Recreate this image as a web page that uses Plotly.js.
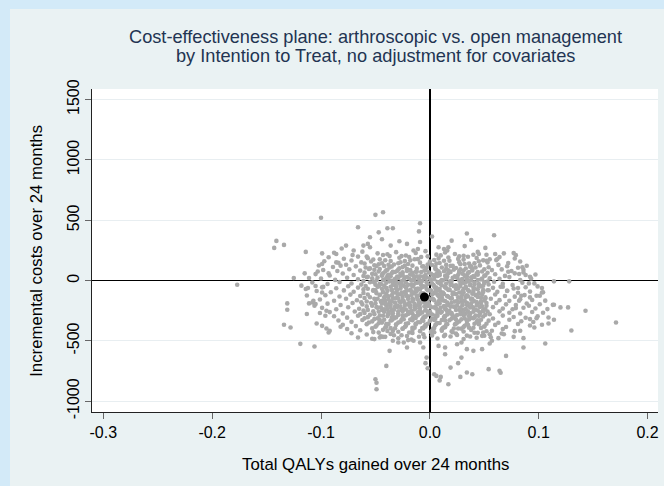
<!DOCTYPE html>
<html><head><meta charset="utf-8">
<script src="https://cdn.plot.ly/plotly-3.0.1.min.js"></script>
<style>
html,body{margin:0;padding:0;background:#d3eaf8;width:664px;height:486px;overflow:hidden}
#chart{position:absolute;left:10px;top:9px;width:654px;height:477px}
</style>
</head><body><div id="chart"></div>
<script>
// Bootstrap replicates: rows of the dense cloud (q = incremental QALYs, c = incremental cost)
const cloudRowsA = [
 {q:[-.088,-.071,-.062,-.048,-.039,-.031,-.022,-.013,-.004,.006,.014,.023,.031,.044,.052,.068], c:[231,212,240,226,218,236,208,229,244,215,233,221,205,238,214,226]},
 {q:[-.093,-.079,-.066,-.057,-.046,-.037,-.028,-.019,-.011,-.002,.008,.017,.026,.035,.043,.055,.064,.078], c:[193,181,199,186,176,203,189,195,178,201,184,192,180,198,187,176,195,183]},
 {q:[-.097,-.084,-.072,-.063,-.054,-.044,-.036,-.027,-.018,-.009,.000,.009,.018,.027,.036,.045,.053,.061,.072,.083], c:[160,148,166,151,158,144,163,152,168,149,157,146,165,153,141,161,150,170,145,158]},
 {q:[-.102,-.089,-.077,-.068,-.059,-.051,-.042,-.033,-.025,-.016,-.007,.002,.011,.019,.028,.037,.046,.054,.063,.071,.081,.089], c:[125,113,131,118,109,127,121,134,112,124,117,129,108,122,136,115,126,111,130,119,107,123]},
 {q:[-.098,-.085,-.074,-.064,-.056,-.047,-.039,-.030,-.021,-.012,-.004,.005,.013,.022,.031,.039,.048,.057,.066,.075,.086], c:[88,79,94,83,97,76,90,81,95,73,86,99,78,91,84,96,75,87,93,80,89]},
 {q:[-.105,-.092,-.080,-.070,-.061,-.053,-.044,-.035,-.027,-.018,-.009,.001,.009,.017,.026,.034,.043,.051,.060,.069,.078,.088,.097], c:[54,42,59,47,38,56,45,61,40,52,36,57,44,63,49,37,58,43,53,39,60,46,51]},
 {q:[-.100,-.087,-.076,-.066,-.058,-.049,-.040,-.032,-.023,-.014,-.005,.004,.012,.021,.030,.038,.047,.055,.064,.073,.083,.093], c:[18,6,24,11,28,3,21,14,26,8,19,31,2,23,12,27,9,20,15,29,5,17]},
 {q:[-.108,-.094,-.083,-.072,-.063,-.055,-.046,-.037,-.028,-.020,-.011,-.002,.007,.015,.024,.033,.041,.050,.059,.067,.076,.085,.096], c:[-16,-28,-11,-24,-33,-14,-27,-8,-22,-35,-18,-29,-12,-25,-38,-15,-31,-20,-9,-26,-36,-17,-23]},
 {q:[-.098,-.086,-.075,-.066,-.057,-.048,-.040,-.031,-.022,-.013,-.004,.005,.014,.022,.031,.040,.049,.058,.067,.077,.088,.099], c:[-52,-63,-47,-58,-68,-50,-61,-44,-56,-70,-49,-64,-53,-46,-67,-57,-42,-60,-51,-66,-55,-48]},
 {q:[-.104,-.091,-.079,-.070,-.061,-.052,-.043,-.035,-.026,-.017,-.008,.001,.010,.018,.027,.036,.045,.054,.062,.071,.081,.092,.104], c:[-86,-97,-81,-92,-103,-84,-95,-78,-100,-88,-106,-83,-94,-77,-99,-89,-104,-80,-93,-85,-101,-91,-96]},
 {q:[-.096,-.083,-.073,-.064,-.055,-.046,-.038,-.029,-.020,-.011,-.002,.007,.016,.024,.033,.042,.051,.060,.069,.078,.087,.098], c:[-121,-132,-116,-128,-138,-119,-130,-113,-135,-124,-141,-118,-129,-112,-136,-122,-139,-115,-127,-133,-120,-126]},
 {q:[-.101,-.088,-.077,-.067,-.058,-.050,-.041,-.032,-.024,-.015,-.006,.003,.012,.020,.029,.038,.047,.056,.064,.073,.083,.094,.106], c:[-156,-167,-151,-163,-173,-154,-165,-148,-170,-159,-176,-153,-164,-147,-171,-157,-174,-150,-162,-168,-155,-161,-166]},
 {q:[-.094,-.082,-.071,-.062,-.053,-.044,-.036,-.027,-.018,-.009,.000,.009,.017,.026,.035,.044,.052,.061,.070,.079,.089,.101,.113], c:[-191,-202,-186,-198,-208,-189,-200,-183,-205,-194,-211,-188,-199,-182,-206,-192,-209,-185,-197,-203,-190,-196,-201]},
 {q:[-.099,-.086,-.075,-.065,-.057,-.048,-.039,-.030,-.022,-.013,-.004,.005,.014,.023,.031,.040,.049,.058,.067,.076,.086,.097,.108,.120], c:[-226,-237,-221,-233,-243,-224,-235,-218,-240,-229,-246,-223,-234,-217,-241,-227,-244,-220,-232,-238,-225,-231,-236,-222]},
 {q:[-.092,-.080,-.069,-.060,-.051,-.042,-.034,-.025,-.016,-.007,.002,.011,.020,.028,.037,.046,.055,.064,.073,.083,.094,.104], c:[-261,-272,-256,-268,-278,-259,-270,-253,-275,-264,-281,-258,-269,-252,-276,-262,-279,-255,-267,-273,-260,-266]},
 {q:[-.088,-.076,-.066,-.057,-.048,-.039,-.031,-.022,-.013,-.004,.005,.014,.022,.031,.040,.049,.058,.067,.077,.088,.099], c:[-296,-307,-291,-303,-313,-294,-305,-288,-310,-299,-316,-293,-304,-287,-311,-297,-314,-290,-302,-308,-295]},
 {q:[-.084,-.072,-.062,-.053,-.044,-.035,-.027,-.018,-.009,.000,.009,.018,.027,.036,.045,.054,.063,.073,.084,.095], c:[-331,-342,-326,-338,-348,-329,-340,-323,-345,-334,-351,-328,-339,-322,-346,-332,-349,-325,-337,-343]},
 {q:[-.080,-.068,-.058,-.049,-.040,-.031,-.022,-.013,-.004,.005,.014,.023,.032,.041,.050,.060,.070,.081,.092], c:[-366,-377,-361,-373,-383,-364,-375,-358,-380,-369,-386,-363,-374,-357,-381,-367,-384,-360,-372]},
 {q:[-.076,-.064,-.053,-.043,-.034,-.025,-.016,-.007,.002,.011,.020,.029,.038,.047,.057,.067,.078], c:[-401,-412,-396,-408,-418,-399,-410,-393,-415,-404,-421,-398,-409,-392,-416,-402,-419]},
 {q:[-.072,-.058,-.047,-.036,-.026,-.016,-.006,.004,.014,.024,.034,.044,.055,.066], c:[-436,-447,-431,-443,-453,-434,-445,-428,-450,-439,-456,-433,-444,-438]},
 {q:[-.066,-.053,-.041,-.029,-.017,-.005,.007,.019,.031,.043,.056], c:[-471,-482,-466,-478,-488,-469,-480,-463,-485,-474,-470]}
];
const cloudRowsB = [
 {q:[-.058,-.043,-.026,-.008,.010,.027,.040], c:[199,212,203,196,209,201,214]},
 {q:[-.052,-.041,-.023,-.014,.004,.013,.031,.049], c:[175,169,163,177,171,165,174,168]},
 {q:[-.060,-.047,-.038,-.029,-.020,-.002,.006,.015,.032,.041], c:[142,136,131,144,138,134,141,130,137,143]},
 {q:[-.055,-.046,-.037,-.028,-.012,-.003,.015,.024,.033,.042,.050], c:[101,96,109,103,99,106,97,105,100,108,94]},
 {q:[-.060,-.043,-.034,-.025,-.016,-.008,.009,.018,.027,.035,.044,.053], c:[66,61,74,68,64,71,60,73,67,62,70,65]},
 {q:[-.057,-.048,-.039,-.030,-.021,-.012,-.003,.007,.016,.025,.033,.041,.050], c:[31,26,39,33,29,36,25,38,32,27,35,30,40]},
 {q:[-.061,-.052,-.043,-.035,-.026,-.017,-.008,.001,.010,.018,.027,.036,.044,.053], c:[-4,-9,4,-2,-6,1,-10,3,-5,-8,0,-3,5,-7]},
 {q:[-.059,-.050,-.042,-.033,-.024,-.015,-.006,.003,.011,.020,.028,.037,.045,.054], c:[-45,-34,-40,-31,-43,-37,-47,-35,-41,-30,-44,-38,-46,-32]},
 {q:[-.061,-.052,-.044,-.035,-.027,-.018,-.009,.000,.009,.018,.026,.035,.044,.053], c:[-73,-79,-68,-74,-65,-77,-71,-81,-69,-75,-64,-78,-72,-80]},
 {q:[-.057,-.049,-.040,-.031,-.022,-.014,-.005,.004,.013,.021,.030,.039,.048], c:[-115,-104,-110,-101,-113,-107,-117,-105,-111,-100,-114,-108,-116]},
 {q:[-.060,-.051,-.042,-.034,-.025,-.016,-.007,.002,.011,.020,.029,.038,.047], c:[-144,-150,-139,-145,-136,-148,-142,-152,-140,-146,-135,-149,-143]},
 {q:[-.063,-.054,-.045,-.037,-.028,-.019,-.010,-.001,.008,.016,.025,.034,.043,.052], c:[-179,-185,-174,-180,-171,-183,-177,-187,-175,-181,-170,-184,-178,-186]},
 {q:[-.058,-.049,-.040,-.032,-.023,-.014,-.005,.004,.013,.022,.030,.039,.048], c:[-214,-220,-209,-215,-206,-218,-212,-222,-210,-216,-205,-219,-213]},
 {q:[-.061,-.052,-.044,-.035,-.026,-.017,-.009,.000,.009,.018,.027,.035,.044,.053], c:[-249,-255,-244,-250,-241,-253,-247,-257,-245,-251,-240,-254,-248,-256]},
 {q:[-.064,-.055,-.046,-.038,-.029,-.020,-.011,-.002,.007,.016,.025,.033,.042,.051], c:[-278,-284,-290,-279,-285,-276,-288,-282,-292,-280,-286,-275,-289,-283]},
 {q:[-.060,-.051,-.042,-.033,-.024,-.016,-.007,.002,.011,.020,.029,.038,.047], c:[-313,-319,-325,-314,-320,-311,-323,-317,-327,-315,-321,-310,-324]},
 {q:[-.056,-.047,-.038,-.029,-.020,-.011,-.002,.007,.016,.025,.034,.043,.052], c:[-347,-353,-359,-348,-354,-345,-357,-351,-361,-349,-355,-344,-358]},
 {q:[-.050,-.041,-.032,-.023,-.014,-.005,.004,.013,.022,.031,.040,.050], c:[-383,-389,-395,-384,-390,-381,-393,-387,-397,-385,-391,-380]},
 {q:[-.052,-.039,-.029,-.019,-.009,.001,.011,.021,.031,.041,.052], c:[-427,-418,-424,-430,-419,-425,-416,-428,-422,-432,-420]},
 {q:[-.045,-.033,-.021,-.010,.002,.013,.025,.037,.050], c:[-462,-453,-459,-465,-454,-460,-451,-463,-457]}
];
const cloudRowsC = [
 {q:[-.041,-.032,-.021,-.013,-.001,.008,.019,.027,.036], c:[76,71,79,73,68,77,72,80,70]},
 {q:[-.044,-.036,-.025,-.015,-.006,.003,.014,.023,.032,.040], c:[41,36,44,38,33,46,39,35,43,37]},
 {q:[-.042,-.033,-.024,-.016,-.007,.004,.011,.020,.029,.038], c:[6,0,9,3,-2,11,4,-1,8,2]},
 {q:[-.045,-.034,-.026,-.017,-.008,.002,.010,.019,.028,.037,.045], c:[-29,-35,-26,-32,-37,-24,-31,-36,-27,-33,-28]},
 {q:[-.040,-.031,-.022,-.011,-.003,.006,.015,.024,.033,.041], c:[-62,-67,-59,-65,-70,-58,-64,-69,-61,-66]},
 {q:[-.043,-.034,-.023,-.015,-.006,.005,.012,.022,.031,.040,.049], c:[-97,-102,-94,-100,-105,-93,-99,-104,-96,-101,-95]},
 {q:[-.041,-.030,-.021,-.012,-.003,.008,.017,.026,.035,.044], c:[-132,-137,-129,-135,-140,-128,-134,-139,-131,-136]},
 {q:[-.044,-.035,-.025,-.016,-.005,.004,.014,.023,.032,.041,.050], c:[-167,-172,-164,-170,-175,-163,-169,-174,-166,-171,-165]},
 {q:[-.039,-.030,-.020,-.011,-.002,.007,.016,.025,.034,.043], c:[-202,-207,-199,-205,-210,-198,-204,-209,-201,-206]},
 {q:[-.042,-.033,-.024,-.014,-.004,.006,.015,.024,.033,.042,.051], c:[-237,-242,-234,-240,-245,-233,-239,-244,-236,-241,-235]},
 {q:[-.038,-.029,-.019,-.009,.001,.010,.019,.028,.037,.046], c:[-271,-276,-268,-274,-279,-267,-273,-278,-270,-275]},
 {q:[-.035,-.025,-.015,-.006,.004,.013,.023,.032,.041], c:[-306,-311,-303,-309,-314,-302,-308,-313,-305]}
];
const cloudRowsD = [
 {q:[-.049,-.035,-.023,-.006,.005,.021,.038], c:[121,117,124,119,115,122,118]},
 {q:[-.051,-.040,-.029,-.018,-.005,.006,.017,.028,.039], c:[89,85,92,87,83,90,86,93,84]},
 {q:[-.050,-.038,-.027,-.017,-.004,.006,.016,.030,.044], c:[53,49,56,51,47,54,50,57,48]},
 {q:[-.053,-.038,-.029,-.019,-.010,.000,.015,.025,.034,.048], c:[19,15,22,17,13,20,16,23,14,18]},
 {q:[-.051,-.040,-.031,-.022,-.013,-.003,.008,.019,.031,.041,.050], c:[-14,-18,-11,-16,-20,-13,-17,-10,-19,-15,-12]},
 {q:[-.047,-.036,-.027,-.016,-.007,.004,.014,.024,.033,.047], c:[-47,-51,-44,-49,-53,-46,-50,-43,-52,-48]},
 {q:[-.050,-.039,-.030,-.021,-.012,-.002,.007,.017,.030,.040,.049], c:[-81,-85,-78,-83,-87,-80,-84,-77,-86,-82,-79]},
 {q:[-.046,-.035,-.026,-.017,-.008,.002,.011,.021,.034,.044], c:[-117,-121,-114,-119,-123,-116,-120,-113,-122,-118]},
 {q:[-.048,-.038,-.029,-.020,-.011,-.001,.009,.019,.029,.039,.051], c:[-151,-155,-148,-153,-157,-150,-154,-147,-156,-152,-149]},
 {q:[-.050,-.041,-.032,-.023,-.014,-.004,.006,.020,.030,.038,.047], c:[-187,-191,-184,-189,-193,-186,-190,-183,-192,-188,-185]},
 {q:[-.045,-.036,-.027,-.018,-.009,.001,.010,.019,.028,.037,.046], c:[-221,-225,-218,-223,-227,-220,-224,-217,-226,-222,-219]},
 {q:[-.047,-.038,-.029,-.020,-.011,-.002,.007,.016,.031,.040,.049], c:[-257,-261,-254,-259,-263,-256,-260,-253,-262,-258,-255]},
 {q:[-.043,-.034,-.025,-.014,-.005,.005,.014,.021,.036,.045], c:[-291,-295,-288,-293,-297,-290,-294,-287,-296,-292]},
 {q:[-.046,-.036,-.026,-.016,-.006,.004,.014,.024,.034,.044], c:[-327,-331,-324,-329,-333,-326,-330,-323,-332,-328]},
 {q:[-.040,-.031,-.022,-.013,-.004,.006,.015,.024,.035,.045], c:[-361,-365,-358,-363,-367,-360,-364,-357,-366,-362]},
 {q:[-.036,-.025,-.016,-.006,.003,.012,.026,.036], c:[-394,-398,-391,-396,-400,-393,-397,-390]}
];
// Individually read replicates at the edges of the cloud [qaly, cost]
const edgePoints = [
 [-0.100,521],[-0.050,545],[-0.043,566],[-0.009,475],[-0.066,442],[-0.039,434],[-0.034,434],[-0.047,400],[-0.010,408],[0.034,390],[0.059,376],[0.002,366],[-0.055,359],[-0.044,343],[-0.028,326],[-0.009,320],[0.020,331],[0.038,337],[-0.141,329],[-0.143,271],[-0.134,296],[-0.114,238],[-0.099,226],[-0.077,290],[-0.081,266],[-0.061,290],[-0.057,304],[-0.055,276],[-0.036,290],[-0.021,304],[0.008,276],[0.013,262],[0.017,276],[0.032,286],[0.051,271],[0.060,221],[0.077,229],[0.079,211],[0.045,221],[0.016,250],[-0.015,250],[-0.011,262],[-0.086,221],[-0.070,250],
 [0.062,179],[0.052,165],[0.085,110],[0.086,68],[0.082,55],[0.072,74],[0.092,32],[0.114,-6],[0.128,-6],[0.091,-23],[0.103,-61],[0.103,-98],[0.101,-125],[0.065,-51],[0.071,-84],[0.081,-61],[0.092,-139],[0.084,-125],[0.082,-167],[0.114,-200],[0.127,-222],[0.143,-250],[0.091,-208],[0.079,-228],[0.098,-311],[0.092,-319],[0.109,-306],[0.109,-355],[0.114,-325],[0.103,-366],[0.096,-389],[0.171,-347],[0.130,-414],[0.083,-416],[0.086,-477],[0.106,-521],[0.086,-555],[0.077,-466],[0.068,-444],[0.063,-477],[0.057,-499],[0.055,-521],[0.070,-624],[0.054,-734],[0.064,-748],[0.048,-568],[0.049,-430],[0.048,-458],
 [-0.177,-34],[-0.125,22],[-0.115,60],[-0.111,22],[-0.103,76],[-0.093,60],[-0.099,138],[-0.086,151],[-0.082,124],[-0.118,-42],[-0.114,-70],[-0.112,-61],[-0.113,-123],[-0.105,-45],[-0.099,-56],[-0.099,-98],[-0.131,-189],[-0.131,-242],[-0.111,-189],[-0.108,-181],[-0.106,-208],[-0.113,-277],[-0.101,-269],[-0.096,-291],[-0.095,-250],[-0.134,-366],[-0.128,-389],[-0.104,-355],[-0.099,-375],[-0.095,-397],[-0.119,-524],[-0.106,-546],[-0.093,-430],[-0.082,-383],[-0.092,-416],[-0.107,-167],[-0.105,-194],
 [-0.050,-817],[-0.049,-846],[-0.049,-900],[-0.040,-707],[-0.003,-638],[-0.002,-726],[0.004,-776],[0.006,-790],[0.010,-798],[0.017,-859],[0.014,-610],[0.026,-684],[0.029,-638],[0.039,-776],[0.034,-762],[0.019,-721],[-0.037,-582],[-0.029,-513],[-0.034,-499],[-0.051,-485],[-0.046,-472],[-0.043,-466],[-0.024,-513],[-0.020,-493],[-0.015,-499],[-0.006,-555],[-0.004,-684],[-0.021,-555],[0.008,-541],[0.014,-555],[0.034,-568],[0.040,-582],[0.025,-527],[0.029,-513],[-0.009,-513],[0.009,-827],[0.028,-798],[0.065,-764]
];
// Point estimate (mean)
const meanQaly = [-0.005];
const meanCost = [-136];

const xTickVals = [-0.3,-0.2,-0.1,0,0.1,0.2];
const xTickText = ['-0.3','-0.2','-0.1','0.0','0.1','0.2'];
const yTickVals = [-1000,-500,0,500,1000,1500];
const yTickText = ['-1000','-500','0','500','1000','1500'];

const qaly = [], cost = [];
[cloudRowsA, cloudRowsB, cloudRowsC, cloudRowsD].forEach(rows => rows.forEach(r => {
  const n = Math.min(r.q.length, r.c.length);
  for (let i = 0; i < n; i++) { qaly.push(r.q[i]); cost.push(r.c[i]); }
}));
edgePoints.forEach(p => { qaly.push(p[0]); cost.push(p[1]); });

const font = 'Liberation Sans, Arial, Helvetica, sans-serif';
const traces = [
  {type:'scatter', mode:'markers', x:qaly, y:cost, hoverinfo:'skip',
   marker:{size:4.6, color:'#a9a9a9', line:{width:0}}},
  {type:'scatter', mode:'markers', x:meanQaly, y:meanCost, hoverinfo:'skip',
   marker:{size:9, color:'#000000', line:{width:0}}}
];
const layout = {
  width:654, height:477,
  margin:{l:82, r:6, t:80, b:74},
  paper_bgcolor:'#eaf2f3', plot_bgcolor:'#ffffff',
  showlegend:false,
  font:{family:font, color:'#000'},
  xaxis:{range:[-0.3104,0.2096], tickvals:xTickVals, ticktext:xTickText,
    ticks:'outside', ticklen:6, tickcolor:'#666', tickwidth:1,
    showline:true, linecolor:'#222', linewidth:1, showgrid:false,
    zeroline:true, zerolinecolor:'#000', zerolinewidth:1.6,
    tickfont:{family:font, size:16, color:'#000'}},
  yaxis:{range:[-1089,1588], tickvals:yTickVals, ticktext:yTickText, tickangle:-90,
    ticks:'outside', ticklen:6, tickcolor:'#666', tickwidth:1,
    showline:true, linecolor:'#222', linewidth:1,
    showgrid:true, gridcolor:'#e8eef1', gridwidth:1,
    zeroline:true, zerolinecolor:'#000', zerolinewidth:1.6,
    tickfont:{family:font, size:16, color:'#000'}},
  annotations:[
    {text:'Cost-effectiveness plane: arthroscopic vs. open management', xref:'paper', yref:'paper',
     x:0.5, y:1.161, xanchor:'center', yanchor:'middle', showarrow:false,
     font:{family:font, size:18.2, color:'#223452'}},
    {text:'by Intention to Treat, no adjustment for covariates', xref:'paper', yref:'paper',
     x:0.5, y:1.101, xanchor:'center', yanchor:'middle', showarrow:false,
     font:{family:font, size:18.2, color:'#223452'}},
    {text:'Total QALYs gained over 24 months', xref:'paper', yref:'paper',
     x:0.5, y:-0.161, xanchor:'center', yanchor:'middle', showarrow:false,
     font:{family:font, size:16.8, color:'#000'}},
    {text:'Incremental costs over 24 months', xref:'paper', yref:'paper',
     x:-0.0984, y:0.5, xanchor:'center', yanchor:'middle', textangle:-90, showarrow:false,
     font:{family:font, size:16.8, color:'#000'}}
  ]
};
Plotly.newPlot('chart', traces, layout, {staticPlot:true, displayModeBar:false});
</script></body></html>
